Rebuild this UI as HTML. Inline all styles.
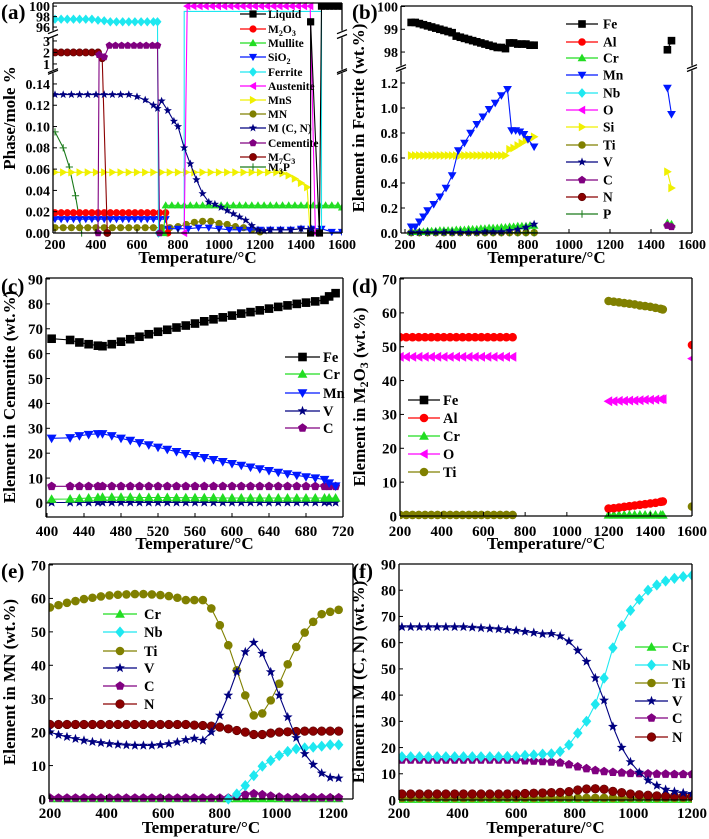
<!DOCTYPE html>
<html><head><meta charset="utf-8">
<style>
html,body{margin:0;padding:0;background:#fff;}
svg{display:block;font-family:"Liberation Serif",serif;font-weight:bold;}
</style></head>
<body>
<svg id="chart" width="709" height="839" viewBox="0 0 709 839"></svg>
<script>
// ---------- Panel (a) data ----------
const aM2O3X=[200,230,260,290,320,350,380,410,440,470,500,530,560,590,620,650,680,710,740,750];
const aM2O3Y=[0.019,0.019,0.019,0.019,0.019,0.019,0.019,0.019,0.019,0.019,0.019,0.019,0.019,0.019,0.019,0.019,0.019,0.019,0.019,0];
const aSiO2X=[200,230,260,290,320,350,380,410,440,470,500,530,560,590,620,650,680,710,740,750,800,850,900,950,1000,1050,1100,1150,1200,1250,1300,1350,1400,1450,1500,1550,1600];
const aSiO2Y=[0.013,0.013,0.013,0.013,0.013,0.013,0.013,0.013,0.013,0.013,0.013,0.013,0.013,0.013,0.013,0.013,0.013,0.013,0.013,0.004,0.004,0.004,0.005,0.005,0.004,0.003,0.003,0.003,0.003,0.003,0.003,0.003,0.004,0.004,0.004,0.001,0.001];
const aMulliteX=[730,740,770,800,830,860,890,920,950,980,1010,1040,1070,1100,1130,1160,1190,1220,1250,1280,1310,1340,1370,1400,1430,1460,1490,1520,1550,1580,1600];
const aMulliteY=[0,0.026,0.026,0.026,0.026,0.026,0.026,0.026,0.026,0.026,0.026,0.026,0.026,0.026,0.026,0.026,0.026,0.026,0.026,0.026,0.026,0.026,0.026,0.026,0.026,0.026,0.026,0.026,0.026,0.026,0.024];
const aFerriteX=[200,230,260,290,320,350,380,410,440,470,500,530,560,590,620,650,680,700,705];
const aFerriteY=[97.5,97.5,97.5,97.5,97.5,97.5,97.5,97.3,97.2,97,97,97,97,97,97,97,97,97,0];
const aFerrite2X=[830,830,1500,1500];
const aFerrite2Y=[0,99,99,0];
const aAustX=[830,845,875,905,935,965,995,1025,1055,1085,1115,1145,1175,1205,1235,1265,1295,1325,1355,1385,1415,1445,1470];
const aAustY=[0,100,100,100,100,100,100,100,100,100,100,100,100,100,100,100,100,100,100,100,100,100,0];
const aLiquidX=[1447,1447,1490,1500,1520,1540,1560,1580,1600];
const aLiquidY=[0,97,0,100,100,100,100,100,100];
const aMnSX=[200,240,280,320,360,400,440,480,520,560,600,640,680,720,760,800,840,880,920,960,1000,1040,1080,1120,1160,1200,1240,1280,1310,1340,1370,1400,1430,1445];
const aMnSY=[0.057,0.057,0.057,0.057,0.057,0.057,0.057,0.057,0.057,0.057,0.057,0.057,0.057,0.057,0.057,0.057,0.057,0.057,0.057,0.057,0.057,0.057,0.057,0.057,0.057,0.057,0.057,0.057,0.056,0.054,0.051,0.047,0.043,0];
const aMNX=[200,240,280,320,360,400,440,480,520,560,600,640,680,720,760,800,840,880,920,960,1000,1040,1080,1120,1160,1200];
const aMNY=[0.005,0.005,0.005,0.005,0.005,0.005,0.005,0.005,0.005,0.005,0.005,0.005,0.005,0.005,0.005,0.006,0.008,0.01,0.011,0.011,0.009,0.008,0.006,0.005,0.003,0.001];
const aMCNX=[200,240,280,320,360,400,440,480,520,560,600,640,680,700,720,750,780,800,830,860,890,920,950,980,1010,1040,1070,1100,1130,1160,1190,1220,1250,1300,1350,1400,1450];
const aMCNY=[0.13,0.13,0.13,0.13,0.13,0.13,0.13,0.13,0.13,0.13,0.128,0.125,0.12,0.117,0.124,0.115,0.105,0.1,0.08,0.065,0.05,0.037,0.029,0.027,0.024,0.021,0.018,0.015,0.012,0.007,0.003,0.002,0.003,0.003,0.003,0.004,0.004];
const aCemX=[410,415,440,465,495,525,555,585,615,645,675,700,710];
const aCemY=[0,1.8,1.6,2.6,2.6,2.6,2.6,2.6,2.6,2.6,2.6,2.6,0];
const aM7C3X=[200,230,260,290,320,350,380,410,430,455];
const aM7C3Y=[2,2,2,2,2,2,2,2,1.5,0];
const aM3PX=[200,240,270,300,330];
const aM3PY=[0.095,0.08,0.062,0.035,0];
const aXTicks=[200,400,600,800,1000,1200,1400,1600];
const aYTicks=[0,0.02,0.04,0.06,0.08,0.10,0.12,0.14,1,2,3,96,98,100];

// ---------- Panel (b) data ----------
const bFeX=[230,250,270,290,310,330,350,370,390,410,430,450,470,490,510,530,550,570,590,610,630,650,670,690,710,730,750,770,790,810,830];
const bFeY=[99.3,99.3,99.25,99.2,99.15,99.1,99.05,99.0,98.95,98.9,98.85,98.7,98.65,98.6,98.55,98.5,98.45,98.4,98.35,98.3,98.25,98.2,98.2,98.15,98.4,98.4,98.35,98.35,98.35,98.3,98.3];
const bFe2X=[1480,1500];
const bFe2Y=[98.1,98.5];
const bMnX=[230,250,270,290,310,340,370,400,430,460,490,520,550,580,610,640,670,700,720,740,760,780,800,830];
const bMnY=[0.05,0.05,0.09,0.13,0.18,0.23,0.29,0.36,0.46,0.66,0.72,0.8,0.87,0.93,0.99,1.04,1.1,1.15,0.82,0.82,0.81,0.79,0.75,0.69];
const bMn2Y=[1.16,0.95];
const bSiX=[230,250,270,290,310,330,350,370,390,410,430,450,470,490,510,530,550,570,590,610,630,650,670,690,710,730,750,770,790,810,830];
const bSiY=[0.62,0.62,0.62,0.62,0.62,0.62,0.62,0.62,0.62,0.62,0.62,0.62,0.62,0.62,0.62,0.62,0.62,0.62,0.62,0.62,0.62,0.62,0.62,0.62,0.67,0.68,0.7,0.72,0.74,0.75,0.77];
const bSi2Y=[0.49,0.36];
const bCrY=[0.01,0.01,0.01,0.01,0.015,0.015,0.015,0.02,0.02,0.02,0.02,0.025,0.025,0.025,0.03,0.03,0.03,0.035,0.035,0.04,0.04,0.04,0.045,0.045,0.05,0.05,0.055,0.055,0.055,0.06,0.06];
const bCr2Y=[0.08,0.07];
const bVX=[230,270,310,350,390,430,470,510,550,590,630,670,710,750,790,830];
const bVY=[0.005,0.005,0.005,0.005,0.005,0.005,0.005,0.005,0.005,0.01,0.01,0.01,0.02,0.03,0.045,0.07];
const bLowY=[0.003,0.003,0.003,0.003,0.003,0.003,0.003,0.003,0.003,0.003,0.003,0.003,0.003,0.003,0.003,0.003];
const bC2Y=[0.06,0.05];
const bXTicks=[200,400,600,800,1000,1200,1400,1600];
const bYTicks=[0,0.2,0.4,0.6,0.8,1.0,1.2,98,99,100];

// ---------- Panel (c) data ----------
const cX=[405,425,435,445,455,460,470,480,490,500,510,520,530,540,550,560,570,580,590,600,610,620,630,640,650,660,670,680,690,700,705,712];
const cFe=[66,65.5,64.5,63.8,63.2,63,63.8,64.8,65.8,66.8,67.8,68.8,69.6,70.5,71.3,72.1,73,73.8,74.6,75.3,76.1,76.7,77.4,78.1,78.8,79.4,80,80.5,81,81.6,83,84.3];
const cMn=[26,26.2,27,27.5,27.8,27.8,27,26,25.1,24.2,23.3,22.4,21.5,20.6,19.8,19,18.2,17.4,16.6,15.8,15.1,14.4,13.7,13,12.3,11.7,11.1,10.5,10,9.4,8,6.8];
const cC=[6.7,6.7,6.7,6.7,6.7,6.7,6.7,6.7,6.7,6.7,6.7,6.7,6.7,6.7,6.7,6.7,6.7,6.7,6.7,6.7,6.7,6.7,6.7,6.7,6.7,6.7,6.7,6.7,6.7,6.7,6.7,6.7];
const cCr=[1.5,1.6,1.8,2,2.2,2.3,2.3,2.3,2.3,2.2,2.2,2.2,2.2,2.1,2.1,2.1,2.1,2.1,2,2,2,2,2,2,2,2,2,2,2,2,2,2];
const cV=[0.2,0.2,0.2,0.2,0.2,0.2,0.2,0.2,0.2,0.2,0.2,0.2,0.2,0.2,0.2,0.2,0.2,0.2,0.2,0.2,0.2,0.2,0.2,0.2,0.2,0.2,0.2,0.2,0.2,0.2,0.2,0.2];
const cXTicks=[400,440,480,520,560,600,640,680,720];
const cYTicks=[0,10,20,30,40,50,60,70,80,90];

// ---------- Panel (d) data ----------
const dX1=[200,230,260,290,320,350,380,410,440,470,500,530,560,590,620,650,680,710,740];
const dAl1=[52.8,52.8,52.8,52.8,52.8,52.8,52.8,52.8,52.8,52.8,52.8,52.8,52.8,52.8,52.8,52.8,52.8,52.8,52.8];
const dO1=[47,47,47,47,47,47,47,47,47,47,47,47,47,47,47,47,47,47,47];
const dTi1=[0.3,0.3,0.3,0.3,0.3,0.3,0.3,0.3,0.3,0.3,0.3,0.3,0.3,0.3,0.3,0.3,0.3,0.3,0.3];
const dX2=[1200,1225,1250,1275,1300,1325,1350,1375,1400,1425,1450,1460];
const dAl2=[2.2,2.3,2.5,2.7,2.9,3.1,3.3,3.5,3.7,3.9,4.2,4.3];
const dO2=[33.9,33.9,34,34,34.1,34.1,34.2,34.3,34.3,34.4,34.5,34.5];
const dTi2=[63.5,63.3,63.1,62.9,62.7,62.5,62.2,62,61.8,61.5,61.2,61];
const dCr2=[0.3,0.3,0.3,0.3,0.3,0.3,0.3,0.3,0.3,0.3,0.3,0.3];
const dX3=[1600];
const dAl3=[50.5];
const dO3=[46.5];
const dTi3=[2.8];
const dXTicks=[200,400,600,800,1000,1200,1400,1600];
const dYTicks=[0,10,20,30,40,50,60,70];

// ---------- Panel (e) data ----------
const eX=[200,230,260,290,320,350,380,410,440,470,500,530,560,590,620,650,680,710,740,770,800,830,860,890,920,950,980,1010,1040,1070,1100,1130,1160,1190,1220];
const eTi=[57.3,58,58.7,59.2,59.8,60.2,60.6,60.9,61.1,61.2,61.3,61.3,61.2,61,60.7,60.2,59.5,59.5,59.5,57,52,46,38.5,31,25,25.6,29.5,34.5,40.3,45.5,49.8,53,55.3,56,56.6];
const eV=[20,19.2,18.6,18,17.5,17.1,16.8,16.5,16.3,16.1,16,16,16,16.2,16.5,17,17.7,18.1,17.5,20,25,31,38,44,46.8,43.5,38,31,24.5,18.3,13.5,10.3,7.7,6.4,6.2];
const eN=[22.3,22.3,22.3,22.3,22.3,22.3,22.3,22.3,22.3,22.3,22.3,22.3,22.3,22.3,22.3,22.3,22.3,22.1,22,21.8,21.5,21,20.5,20,19.3,19.3,19.7,20,20.1,20.2,20.3,20.3,20.3,20.3,20.3];
const eC=[0.3,0.3,0.3,0.3,0.3,0.3,0.3,0.3,0.3,0.3,0.3,0.3,0.3,0.3,0.3,0.3,0.3,0.3,0.3,0.3,0.3,0.3,0.8,1.3,1.6,1.3,0.9,0.6,0.4,0.4,0.4,0.4,0.4,0.4,0.4];
const eCr=[0.1,0.1,0.1,0.1,0.1,0.1,0.1,0.1,0.1,0.1,0.1,0.1,0.1,0.1,0.1,0.1,0.1,0.1,0.1,0.1,0.1,0.1,0.1,0.1,0.1,0.1,0.1,0.1,0.1,0.1,0.1,0.1,0.1,0.1,0.1];
const eNbX=[830,860,890,920,950,980,1010,1040,1070,1100,1130,1160,1190,1220];
const eNb=[0,1.5,4,7,9.8,11.5,13,14.2,15,15.3,15.5,15.8,16.2,16.2];
const eXTicks=[200,400,600,800,1000,1200];
const eYTicks=[0,10,20,30,40,50,60,70];

// ---------- Panel (f) data ----------
const fX=[210,240,270,300,330,360,390,420,450,480,510,540,570,600,630,660,690,720,750,780,810,840,870,900,930,960,990,1020,1050,1080,1110,1140,1170,1200];
const fV=[66,66,66,66,66,66,66,66,65.8,65.6,65.4,65.2,64.9,64.6,64.2,63.8,63.3,63.4,62.5,60.5,57,52.8,46.5,38,28,20,14.5,10.5,7.5,5.5,4,3.2,2.7,2.4];
const fNb=[16.5,16.5,16.5,16.5,16.5,16.5,16.5,16.5,16.5,16.5,16.5,16.5,16.6,16.6,17,17.2,17.5,17.6,18.5,21,25.5,30,36.5,46.5,58,66.5,72.3,76.5,80,82,83.5,84.5,85.2,85.7];
const fC=[15.3,15.3,15.3,15.3,15.3,15.3,15.3,15.3,15.3,15.3,15.3,15.3,15.3,15.3,15,14.9,14.7,14.5,14.2,13.5,12.7,12,11.3,10.9,10.6,10.4,10.2,10.1,10,9.9,9.9,9.8,9.8,9.8];
const fN=[2.3,2.3,2.3,2.3,2.3,2.3,2.3,2.3,2.3,2.3,2.3,2.3,2.3,2.3,2.5,2.6,2.7,2.8,2.9,3.2,3.8,4.2,4.3,4.1,3.3,2.8,2.3,2,1.8,1.6,1.5,1.4,1.4,1.4];
const fTi=[0.8,0.8,0.8,0.8,0.8,0.8,0.8,0.8,0.8,0.8,0.8,0.8,0.8,0.8,0.8,0.8,0.8,0.8,0.8,0.8,0.8,0.8,0.8,0.8,0.8,0.8,0.8,0.8,0.8,0.8,0.8,0.8,0.8,0.8];
const fCr=[0.3,0.3,0.3,0.3,0.3,0.3,0.3,0.3,0.3,0.3,0.3,0.3,0.3,0.3,0.3,0.3,0.3,0.3,0.3,0.3,0.3,0.3,0.3,0.3,0.3,0.3,0.3,0.3,0.3,0.3,0.3,0.3,0.3,0.3];
const fXTicks=[200,400,600,800,1000,1200];
const fYTicks=[0,10,20,30,40,50,60,70,80,90];

// ---------- drawing ----------
const NS='http://www.w3.org/2000/svg';
const svg=document.getElementById('chart');
function mk(tag,attrs,parent){const e=document.createElementNS(NS,tag);for(const k in attrs)e.setAttribute(k,attrs[k]);parent.appendChild(e);return e;}
const COL={black:'#000',red:'#ff0000',green:'#22dd22',blue:'#0018ff',cyan:'#1ee8f0',magenta:'#ff00ff',yellow:'#f0f000',olive:'#808000',navy:'#000080',purple:'#800080',darkred:'#8b0000',dgreen:'#1a7a1a'};

function marker(g,type,cx,cy,r,color){
  let m;const p=a=>a.map(q=>q[0].toFixed(1)+','+q[1].toFixed(1)).join(' ');
  if(type==='square'){m=mk('rect',{x:cx-r,y:cy-r,width:2*r,height:2*r,fill:color},g);}
  else if(type==='circle'){m=mk('circle',{cx:cx,cy:cy,r:r,fill:color},g);}
  else if(type==='half'){m=mk('circle',{cx:cx,cy:cy,r:r,fill:color,stroke:'#5a0000','stroke-width':0.6},g);}
  else if(type==='up'){m=mk('polygon',{points:p([[cx,cy-r*1.15],[cx+r*1.15,cy+r*0.85],[cx-r*1.15,cy+r*0.85]]),fill:color},g);}
  else if(type==='down'){m=mk('polygon',{points:p([[cx,cy+r*1.15],[cx+r*1.15,cy-r*0.85],[cx-r*1.15,cy-r*0.85]]),fill:color},g);}
  else if(type==='left'){m=mk('polygon',{points:p([[cx-r*1.15,cy],[cx+r*0.85,cy-r*1.15],[cx+r*0.85,cy+r*1.15]]),fill:color},g);}
  else if(type==='right'){m=mk('polygon',{points:p([[cx+r*1.15,cy],[cx-r*0.85,cy-r*1.15],[cx-r*0.85,cy+r*1.15]]),fill:color},g);}
  else if(type==='diamond'){m=mk('polygon',{points:p([[cx,cy-r*1.3],[cx+r*1.1,cy],[cx,cy+r*1.3],[cx-r*1.1,cy]]),fill:color},g);}
  else if(type==='pent'){const a=[];for(let i=0;i<5;i++){const t=-Math.PI/2+i*2*Math.PI/5;a.push([cx+r*1.1*Math.cos(t),cy+r*1.1*Math.sin(t)]);}m=mk('polygon',{points:p(a),fill:color},g);}
  else if(type==='star'){const a=[];for(let i=0;i<10;i++){const t=-Math.PI/2+i*Math.PI/5;const rr=i%2?r*0.5:r*1.2;a.push([cx+rr*Math.cos(t),cy+rr*Math.sin(t)]);}m=mk('polygon',{points:p(a),fill:color},g);}
  else if(type==='plus'){m=mk('path',{d:'M'+(cx-r)+' '+cy+'H'+(cx+r)+'M'+cx+' '+(cy-r)+'V'+(cy+r),stroke:color,'stroke-width':1,fill:'none'},g);}
  if(!m) return;
  
  
}

function makeYMap(segs){
  return v=>{
    for(let i=0;i<segs.length;i++){const s=segs[i];
      if(v>=s.lo&&v<=s.hi) return s.p0+(v-s.lo)/(s.hi-s.lo)*(s.p1-s.p0);
      if(i<segs.length-1&&v>s.hi&&v<segs[i+1].lo){const n=segs[i+1];return s.p1+(v-s.hi)/(n.lo-s.hi)*(n.p0-s.p1);}
    }
    const s=segs[segs.length-1];return s.p0+(v-s.lo)/(s.hi-s.lo)*(s.p1-s.p0);
  };
}

let clipId=0;
function drawPanel(P){
  const g=mk('g',{},svg);
  
  
  const xs=v=>P.xp0+(v-P.x0)/(P.x1-P.x0)*(P.xp1-P.xp0);
  const ys=makeYMap(P.segs);
  const B=P.box;
  const cid='clip'+(clipId++);
  const cp=mk('clipPath',{id:cid},g);
  mk('rect',{x:B[0],y:B[1]-6,width:B[2]-B[0],height:B[3]-B[1]+12},cp);
  const sg=mk('g',{'clip-path':'url(#'+cid+')'},g);
  
  
  P.series.forEach(s=>{
    const pts=s.x.map((xv,i)=>[xs(xv),ys(s.y[i])]);
    const pl=mk('polyline',{points:pts.map(q=>q[0].toFixed(1)+','+q[1].toFixed(1)).join(' '),fill:'none',stroke:s.c,'stroke-width':s.w||1.1},sg);
    
    
    if(s.m){pts.forEach(q=>marker(sg,s.m,q[0],q[1],P.r,s.c));}
  });
  const ax=mk('g',{stroke:'#000','stroke-width':1.3,fill:'none'},g);
  
  
  mk('line',{x1:B[0],y1:B[1],x2:B[2],y2:B[1]},ax);
  mk('line',{x1:B[0],y1:B[3],x2:B[2],y2:B[3]},ax);
  const segs=P.segs;
  for(let i=0;i<segs.length;i++){
    const top=i===segs.length-1?B[1]:segs[i].p1;
    const bot=i===0?B[3]:segs[i].p0;
    mk('line',{x1:B[0],y1:bot,x2:B[0],y2:top},ax);
    mk('line',{x1:B[2],y1:bot,x2:B[2],y2:top},ax);
    if(i>0){
      [B[0],B[2]].forEach(xx=>{
        mk('line',{x1:xx-5,y1:segs[i-1].p1+1,x2:xx+5,y2:segs[i-1].p1-3},ax);
        mk('line',{x1:xx-5,y1:segs[i].p0+3,x2:xx+5,y2:segs[i].p0-1},ax);
      });}
  }
  const tg=mk('g',{'font-size':P.fs,fill:'#000'},g);
  
  
  P.xt.forEach(v=>{const x=xs(v);
    mk('line',{x1:x,y1:B[3],x2:x,y2:B[3]-4,stroke:'#000','stroke-width':1},g);
    const t=mk('text',{x:x,y:P.xty,'text-anchor':'middle'},tg);t.textContent=String(v);
    
    });
  P.yt.forEach(v=>{const y=ys(v);
    mk('line',{x1:B[0],y1:y,x2:B[0]+4,y2:y,stroke:'#000','stroke-width':1},g);
    const t=mk('text',{x:B[0]-3,y:y+P.fs*0.35,'text-anchor':'end'},tg);t.textContent=P.yfmt?P.yfmt(v):String(v);
    
    });
  const xt=mk('text',{x:(B[0]+B[2])/2,y:P.xtitleY,'text-anchor':'middle','font-size':17},g);
  xt.textContent='Temperature/°C';
  
  
  const yt=mk('text',{x:0,y:0,'text-anchor':'middle','font-size':P.ytfs||17,transform:'translate('+P.ytitle[0]+','+P.ytitle[1]+') rotate(-90)'},g);
  yt.innerHTML=P.ytitleHTML;
  
  
  const pl=mk('text',{x:P.lab[0],y:P.lab[1],'font-size':21},g);
  pl.textContent='('+P.id+')';
  
  
  const lg=mk('g',{'font-size':P.lfs},g);
  
  
  P.legend.forEach((L,i)=>{const y=P.leg.ys[i];
    const e=mk('g',{},lg);
    
    
    mk('line',{x1:P.leg.x0,y1:y,x2:P.leg.x1,y2:y,stroke:L[1],'stroke-width':1.2},e);
    marker(e,L[2],(P.leg.x0+P.leg.x1)/2,y,P.r,L[1]);
    const t=mk('text',{x:P.leg.tx,y:y+P.lfs*0.35},e);t.innerHTML=L[0];});
}

const sub=(s,next)=>'<tspan dy="3" font-size="70%">'+s+'</tspan><tspan dy="-3">'+next+'</tspan>';

drawPanel({id:'a',box:[53,3,342,233],x0:200,x1:1600,xp0:55,xp1:342,r:3.6,fs:14,
  segs:[{lo:0,hi:0.15,p0:233,p1:73.3},{lo:0.5,hi:3.3,p0:69.7,p1:37.5},{lo:95.3,hi:100.6,p0:30.7,p1:3}],
  xt:aXTicks,yt:aYTicks,xty:249,yfmt:v=>v<1?v.toFixed(2):String(v),xtitleY:263,ytitle:[15,118],
  ytitleHTML:'Phase/mole %',lab:[1,19],lfs:11.5,
  leg:{x0:240,x1:266,tx:268,ys:[14,29,43,57,72,86,100,114,128,143,157,167]},
  legend:[['Liquid',COL.black,'square'],['M'+sub('2','O')+sub('3',''),COL.red,'circle'],['Mullite',COL.green,'up'],['SiO'+sub('2',''),COL.blue,'down'],['Ferrite',COL.cyan,'diamond'],['Austenite',COL.magenta,'left'],['MnS',COL.yellow,'right'],['MN',COL.olive,'circle'],['M (C, N)',COL.navy,'star'],['Cementite',COL.purple,'pent'],['M'+sub('7','C')+sub('3',''),COL.darkred,'half'],['M'+sub('3','P'),COL.dgreen,'plus']],
  series:[
    {name:'m3p',x:aM3PX,y:aM3PY,c:COL.dgreen,m:'plus'},
    {name:'mn',x:aMNX,y:aMNY,c:COL.olive,m:'circle'},
    {name:'sio2',x:aSiO2X,y:aSiO2Y,c:COL.blue,m:'down'},
    {name:'m2o3',x:aM2O3X,y:aM2O3Y,c:COL.red,m:'circle'},
    {name:'mullite',x:aMulliteX,y:aMulliteY,c:COL.green,m:'up'},
    {name:'mns',x:aMnSX,y:aMnSY,c:COL.yellow,m:'right'},
    {name:'ferrite-lines',x:aFerrite2X,y:aFerrite2Y,c:COL.cyan},
    {name:'ferrite',x:aFerriteX,y:aFerriteY,c:COL.cyan,m:'diamond'},
    {name:'austenite',x:aAustX,y:aAustY,c:COL.magenta,m:'left'},
    {name:'liquid',x:aLiquidX,y:aLiquidY,c:COL.black,m:'square'},
    {name:'m7c3',x:aM7C3X,y:aM7C3Y,c:COL.darkred,m:'half'},
    {name:'cementite',x:aCemX,y:aCemY,c:COL.purple,m:'pent'},
    {name:'mcn',x:aMCNX,y:aMCNY,c:COL.navy,m:'star'}
  ]});

drawPanel({id:'b',box:[401,6,692,233],x0:200,x1:1600,xp0:405,xp1:692,r:3.8,fs:14,
  segs:[{lo:0,hi:1.3,p0:233,p1:70.5},{lo:97.4,hi:100,p0:65.7,p1:6.5}],
  xt:bXTicks,yt:bYTicks,xty:249,yfmt:v=>v<2?v.toFixed(1):String(v),xtitleY:263,ytitle:[364,118],
  ytitleHTML:'Element in Ferrite (wt.%)',lab:[352,19],lfs:13.5,
  leg:{x0:566,x1:598,tx:603,ys:[24,42,58,75,93,110,127,145,162,180,197,214]},
  legend:[['Fe',COL.black,'square'],['Al',COL.red,'circle'],['Cr',COL.green,'up'],['Mn',COL.blue,'down'],['Nb',COL.cyan,'diamond'],['O',COL.magenta,'left'],['Si',COL.yellow,'right'],['Ti',COL.olive,'circle'],['V',COL.navy,'star'],['C',COL.purple,'pent'],['N',COL.darkred,'half'],['P',COL.dgreen,'plus']],
  series:[
    {name:'ti',x:bVX,y:bLowY,c:COL.olive,m:'circle'},
    {name:'p',x:bVX,y:bLowY,c:COL.dgreen,m:'plus'},
    {name:'cr',x:bSiX,y:bCrY,c:COL.green,m:'up'},
    {name:'cr2',x:bFe2X,y:bCr2Y,c:COL.green,m:'up'},
    {name:'v',x:bVX,y:bVY,c:COL.navy,m:'star'},
    {name:'c2',x:bFe2X,y:bC2Y,c:COL.purple,m:'pent'},
    {name:'si',x:bSiX,y:bSiY,c:COL.yellow,m:'right'},
    {name:'si2',x:bFe2X,y:bSi2Y,c:COL.yellow,m:'right'},
    {name:'mn',x:bMnX,y:bMnY,c:COL.blue,m:'down'},
    {name:'mn2',x:bFe2X,y:bMn2Y,c:COL.blue,m:'down'},
    {name:'fe',x:bFeX,y:bFeY,c:COL.black,m:'square'},
    {name:'fe2',x:bFe2X,y:bFe2Y,c:COL.black,m:'square'}
  ]});

drawPanel({id:'c',box:[46,278,343,517],x0:400,x1:720,xp0:47,xp1:343,r:4.3,fs:15,
  segs:[{lo:-5,hi:90,p0:515.4,p1:279}],
  xt:cXTicks,yt:cYTicks,xty:536,xtitleY:549,ytitle:[15,397],
  ytitleHTML:'Element in Cementite (wt.%)',lab:[1,293],lfs:14.5,
  leg:{x0:285,x1:320,tx:323,ys:[357,374,393,411,428]},
  legend:[['Fe',COL.black,'square'],['Cr',COL.green,'up'],['Mn',COL.blue,'down'],['V',COL.navy,'star'],['C',COL.purple,'pent']],
  series:[
    {name:'v',x:cX,y:cV,c:COL.navy,m:'star'},
    {name:'cr',x:cX,y:cCr,c:COL.green,m:'up'},
    {name:'c',x:cX,y:cC,c:COL.purple,m:'pent'},
    {name:'mn',x:cX,y:cMn,c:COL.blue,m:'down'},
    {name:'fe',x:cX,y:cFe,c:COL.black,m:'square'}
  ]});

drawPanel({id:'d',box:[400,278,692,516],x0:200,x1:1600,xp0:400,xp1:692,r:4.3,fs:15,
  segs:[{lo:0,hi:70,p0:516,p1:279}],
  xt:dXTicks,yt:dYTicks,xty:536,xtitleY:549,ytitle:[365,397],
  ytitleHTML:'Element in M'+sub('2','O')+sub('3',' (wt.%)'),lab:[352,293],lfs:14.5,
  leg:{x0:408,x1:440,tx:443,ys:[400,418,436,454,472]},
  legend:[['Fe',COL.black,'square'],['Al',COL.red,'circle'],['Cr',COL.green,'up'],['O',COL.magenta,'left'],['Ti',COL.olive,'circle']],
  series:[
    {name:'ti1',x:dX1,y:dTi1,c:COL.olive,m:'circle'},
    {name:'al1',x:dX1,y:dAl1,c:COL.red,m:'circle'},
    {name:'o1',x:dX1,y:dO1,c:COL.magenta,m:'left'},
    {name:'cr2',x:dX2,y:dCr2,c:COL.green,m:'up'},
    {name:'al2',x:dX2,y:dAl2,c:COL.red,m:'circle'},
    {name:'o2',x:dX2,y:dO2,c:COL.magenta,m:'left'},
    {name:'ti2',x:dX2,y:dTi2,c:COL.olive,m:'circle'},
    {name:'al3',x:dX3,y:dAl3,c:COL.red,m:'circle'},
    {name:'o3',x:dX3,y:dO3,c:COL.magenta,m:'left'},
    {name:'ti3',x:dX3,y:dTi3,c:COL.olive,m:'circle'}
  ]});

drawPanel({id:'e',box:[49,564,353,799],x0:200,x1:1200,xp0:50,xp1:333,r:4.3,fs:15,
  segs:[{lo:0,hi:70,p0:799,p1:565}],
  xt:eXTicks,yt:eYTicks,xty:818,xtitleY:833,ytitle:[15,682],
  ytitleHTML:'Element in MN (wt.%)',lab:[1,578],lfs:14.5,
  leg:{x0:103,x1:137,tx:144,ys:[614,632,651,668,686,704]},
  legend:[['Cr',COL.green,'up'],['Nb',COL.cyan,'diamond'],['Ti',COL.olive,'circle'],['V',COL.navy,'star'],['C',COL.purple,'pent'],['N',COL.darkred,'half']],
  series:[
    {name:'cr',x:eX,y:eCr,c:COL.green,m:'up'},
    {name:'c',x:eX,y:eC,c:COL.purple,m:'pent'},
    {name:'nb',x:eNbX,y:eNb,c:COL.cyan,m:'diamond'},
    {name:'n',x:eX,y:eN,c:COL.darkred,m:'half'},
    {name:'ti',x:eX,y:eTi,c:COL.olive,m:'circle'},
    {name:'v',x:eX,y:eV,c:COL.navy,m:'star'}
  ]});

drawPanel({id:'f',box:[399,564,692,800],x0:200,x1:1200,xp0:399,xp1:692,r:4.3,fs:15,
  segs:[{lo:0,hi:90,p0:800,p1:564}],
  xt:fXTicks,yt:fYTicks,xty:818,xtitleY:833,ytitle:[364,682],
  ytitleHTML:'Element in M (C, N) (wt.%)',lab:[352,578],lfs:14.5,
  leg:{x0:635,x1:668,tx:672,ys:[647,665,683,701,718,737]},
  legend:[['Cr',COL.green,'up'],['Nb',COL.cyan,'diamond'],['Ti',COL.olive,'circle'],['V',COL.navy,'star'],['C',COL.purple,'pent'],['N',COL.darkred,'half']],
  series:[
    {name:'cr',x:fX,y:fCr,c:COL.green,m:'up'},
    {name:'ti',x:fX,y:fTi,c:COL.olive,m:'circle'},
    {name:'n',x:fX,y:fN,c:COL.darkred,m:'half'},
    {name:'c',x:fX,y:fC,c:COL.purple,m:'pent'},
    {name:'nb',x:fX,y:fNb,c:COL.cyan,m:'diamond'},
    {name:'v',x:fX,y:fV,c:COL.navy,m:'star'}
  ]});
</script>
</body></html>
